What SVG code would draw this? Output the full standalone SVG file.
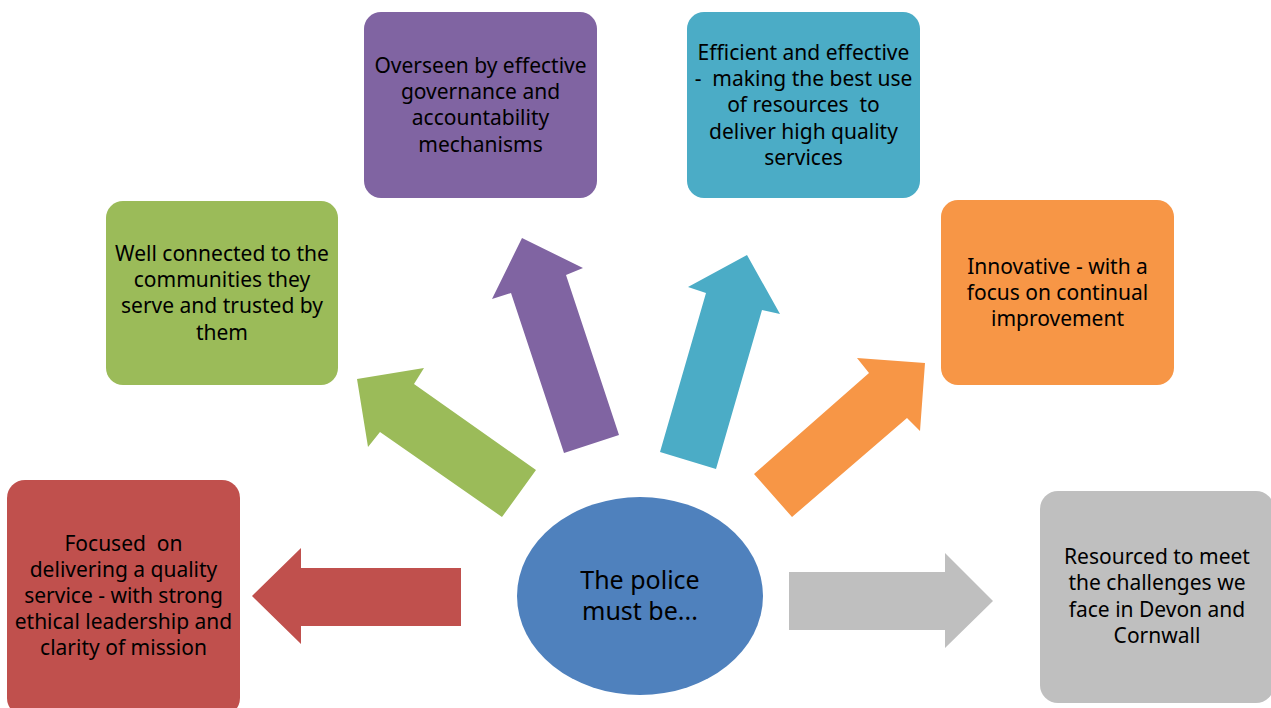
<svg xmlns="http://www.w3.org/2000/svg" width="1271" height="708" viewBox="0 0 1271 708">
  <style>
    .box { stroke: none; }
    .lbl { font-family: "Noto Sans", "Open Sans", sans-serif; font-size: 21px; fill: #000; text-anchor: middle; white-space: pre; }
    .hub { font-family: "Noto Sans", "Open Sans", sans-serif; font-size: 25px; fill: #000; text-anchor: middle; }
    .red { fill: #C0504D; }
    .green { fill: #9BBB59; }
    .purple { fill: #8064A2; }
    .blue { fill: #4BACC6; }
    .orange { fill: #F79646; }
    .grey { fill: #BFBFBF; }
  </style>
  <rect width="1271" height="708" fill="#FFFFFF"/>

  <!-- block arrows from the hub out to each quality -->
  <g id="connectors">
    <polygon class="green" points="357,379 424,368 414,384 536,470 502,517 380,432 368,447"/>
    <polygon class="purple" points="522,238 583,268 566,275 619,435 564,453 511,293 492,299"/>
    <polygon class="blue" points="747,255 780,314 762,310 716,469 660,452 706,293 688,287"/>
    <polygon class="orange" points="925,363 920,431 907,418 792,517 754,474 869,373 857,358"/>
    <polygon class="red" points="252,596 301,548 301,568 461,568 461,626 301,626 301,644"/>
    <polygon class="grey" points="993,601 945,648 945,630 789,630 789,572 945,572 945,553"/>
  </g>

  <g id="hub">
    <ellipse cx="640" cy="596" rx="123" ry="99" fill="#4F81BD"/>
    <text class="hub" x="640" y="589">The police</text>
    <text class="hub" x="640" y="620">must be...</text>
  </g>

  <g id="node-focused">
    <rect class="box red" x="7" y="480" width="233" height="236" rx="18"/>
    <text class="lbl" x="123.5" y="551">Focused  on</text>
    <text class="lbl" x="123.5" y="577">delivering a quality</text>
    <text class="lbl" x="123.5" y="603">service - with strong</text>
    <text class="lbl" x="123.5" y="629">ethical leadership and</text>
    <text class="lbl" x="123.5" y="655">clarity of mission</text>
  </g>

  <g id="node-connected">
    <rect class="box green" x="106" y="201" width="232" height="184" rx="17"/>
    <text class="lbl" x="222" y="261">Well connected to the</text>
    <text class="lbl" x="222" y="287">communities they</text>
    <text class="lbl" x="222" y="313">serve and trusted by</text>
    <text class="lbl" x="222" y="340">them</text>
  </g>

  <g id="node-overseen">
    <rect class="box purple" x="364" y="12" width="233" height="186" rx="17"/>
    <text class="lbl" x="480.5" y="73">Overseen by effective</text>
    <text class="lbl" x="480.5" y="99">governance and</text>
    <text class="lbl" x="480.5" y="125">accountability</text>
    <text class="lbl" x="480.5" y="152">mechanisms</text>
  </g>

  <g id="node-efficient">
    <rect class="box blue" x="687" y="12" width="233" height="186" rx="17"/>
    <text class="lbl" x="803.5" y="60">Efficient and effective</text>
    <text class="lbl" x="803.5" y="86">-  making the best use</text>
    <text class="lbl" x="803.5" y="112">of resources  to</text>
    <text class="lbl" x="803.5" y="139">deliver high quality</text>
    <text class="lbl" x="803.5" y="165">services</text>
  </g>

  <g id="node-innovative">
    <rect class="box orange" x="941" y="200" width="233" height="185" rx="17"/>
    <text class="lbl" x="1057.5" y="274">Innovative - with a</text>
    <text class="lbl" x="1057.5" y="300">focus on continual</text>
    <text class="lbl" x="1057.5" y="326">improvement</text>
  </g>

  <g id="node-resourced">
    <rect class="box grey" x="1040" y="491" width="234" height="212" rx="18"/>
    <text class="lbl" x="1157" y="564">Resourced to meet</text>
    <text class="lbl" x="1157" y="590">the challenges we</text>
    <text class="lbl" x="1157" y="617">face in Devon and</text>
    <text class="lbl" x="1157" y="643">Cornwall</text>
  </g>
</svg>
